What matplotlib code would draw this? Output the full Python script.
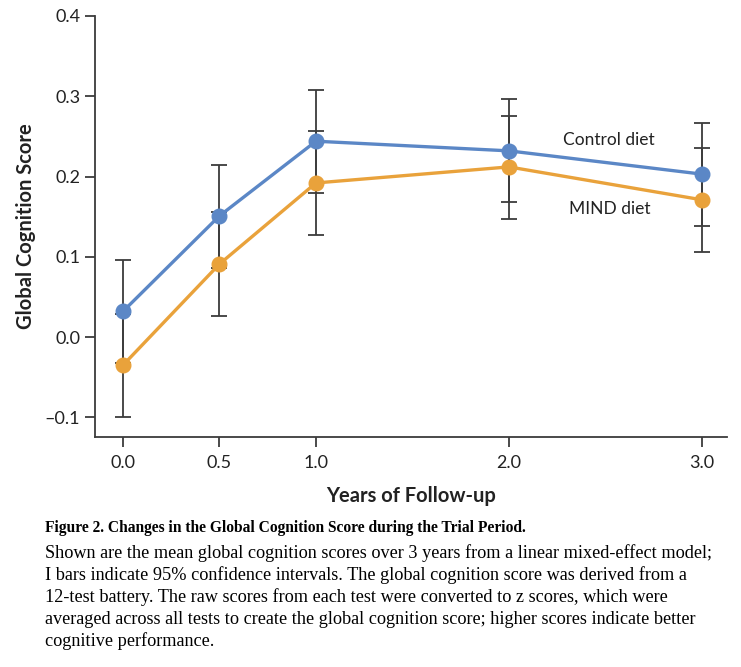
import numpy as np
import matplotlib.pyplot as plt

years = [0.0, 0.5, 1.0, 2.0, 3.0]
tick_labels = ['0.0', '0.5', '1.0', '2.0', '3.0']

control_mean = [0.032, 0.151, 0.244, 0.232, 0.203]
control_low = [-0.032, 0.086, 0.179, 0.168, 0.138]
control_high = [0.096, 0.214, 0.308, 0.296, 0.267]

mind_mean = [-0.035, 0.091, 0.192, 0.212, 0.171]
mind_low = [-0.099, 0.026, 0.127, 0.147, 0.106]
mind_high = [0.029, 0.156, 0.257, 0.276, 0.235]

caption_title = 'Figure 2. Changes in the Global Cognition Score during the Trial Period.'
caption_lines = [
    'Shown are the mean global cognition scores over 3 years from a linear mixed-effect model;',
    'I bars indicate 95% confidence intervals. The global cognition score was derived from a',
    '12-test battery. The raw scores from each test were converted to z scores, which were',
    'averaged across all tests to create the global cognition score; higher scores indicate better',
    'cognitive performance.',
]

BLUE = '#5b87c6'
ORANGE = '#e9a23b'
GREY = '#3c3c3c'
SANS = ['Lato', 'DejaVu Sans']
SERIF = ['Liberation Serif', 'DejaVu Serif']

fig = plt.figure(figsize=(7.41, 6.67), dpi=100)
ax = fig.add_axes([95 / 741, 1 - 437 / 667, (727 - 95) / 741, (437 - 16) / 667])


def ci_bars(mean, low, high):
    mean = np.array(mean)
    err = [mean - np.array(low), np.array(high) - mean]
    ax.errorbar(years, mean, yerr=err, fmt='none', ecolor=GREY,
                elinewidth=1.3, capsize=5.5, capthick=1.3, zorder=2)


ci_bars(control_mean, control_low, control_high)
ci_bars(mind_mean, mind_low, mind_high)

ax.plot(years, control_mean, color=BLUE, lw=2.4, marker='o', ms=10.5,
        zorder=4)
ax.plot(years, mind_mean, color=ORANGE, lw=2.4, marker='o', ms=10.5,
        zorder=3)

ax.text(2.52, 0.245, 'Control diet', fontsize=12.5, family=SANS,
        color='#222222', ha='center', va='center')
ax.text(2.52, 0.159, 'MIND diet', fontsize=12.5, family=SANS,
        color='#222222', ha='center', va='center')

ax.set_xlim(-0.145, 3.13)
ax.set_ylim(-0.1245, 0.4)
ax.set_xticks(years)
ax.set_xticklabels(tick_labels)
ax.set_yticks([-0.1, 0.0, 0.1, 0.2, 0.3, 0.4])
ax.set_yticklabels(['\u20130.1', '0.0', '0.1', '0.2', '0.3', '0.4'])
for lbl in ax.get_xticklabels() + ax.get_yticklabels():
    lbl.set_family(SANS)
    lbl.set_fontsize(13)
    lbl.set_color('#222222')
ax.tick_params(direction='out', length=7.2, width=1.3, color=GREY)
ax.tick_params(axis='y', pad=3.5)
ax.tick_params(axis='x', pad=6)

for side in ['top', 'right']:
    ax.spines[side].set_visible(False)
for side in ['left', 'bottom']:
    ax.spines[side].set_color(GREY)
    ax.spines[side].set_linewidth(1.3)

ax.set_xlabel('Years of Follow-up', fontsize=14.5, fontweight='bold',
              family=SANS, color='#222222')
ax.set_ylabel('Global Cognition Score', fontsize=14.5, fontweight='bold',
              family=SANS, color='#222222')
ax.xaxis.set_label_coords(0.5, (437 - 486) / 421)
ax.yaxis.set_label_coords((36 - 95) / 632, 0.5)

fig.text(45 / 741, 1 - 528 / 667, caption_title, fontsize=11.2,
         fontweight='bold', family=SERIF, va='center')
for i, line in enumerate(caption_lines):
    fig.text(45 / 741, 1 - (553 + 22 * i) / 667, line, fontsize=13.15,
             family=SERIF, va='center')

fig.savefig('out.png', dpi=100)
